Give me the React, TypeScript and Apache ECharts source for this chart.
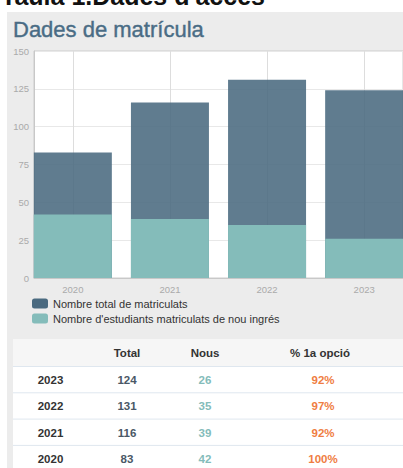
import React, { useEffect, useRef } from "react";
import * as echarts from "echarts";

const years = [2020, 2021, 2022, 2023];
const totals = [83, 116, 131, 124];
const nous = [42, 39, 35, 26];
const pctFirst = [100, 92, 97, 92];
const seriesNames = ["Nombre total de matriculats", "Nombre d'estudiants matriculats de nou ingrés"];
const tableHeaders = ["Total", "Nous", "% 1a opció"];
const yTicks = [0, 25, 50, 75, 100, 125, 150];

const FONT = "'Liberation Sans', Arial, sans-serif";

export default function App() {
  const ref = useRef<HTMLDivElement>(null);
  useEffect(() => {
    if (!ref.current) return;
    const chart = echarts.init(ref.current, undefined, { renderer: "svg" });

    const rowsDesc = years.map((y, i) => ({ y, t: totals[i], n: nous[i], p: pctFirst[i] })).reverse();
    const rowY0 = 380;
    const rowH = 26.3;
    const graphics: any[] = [
      {
        type: "text",
        x: 1,
        y: -4,
        style: {
          text: "Taula 1.Dades d'accés",
          fontFamily: FONT,
          fontWeight: "bold",
          fontSize: 25,
          fill: "#111",
          verticalAlign: "middle",
        },
      },
      {
        type: "text",
        x: 13,
        y: 29,
        style: {
          text: "Dades de matrícula",
          fontFamily: FONT,
          fontSize: 22,
          fill: "#4a6c85",
          stroke: "#4a6c85",
          lineWidth: 0.4,
          verticalAlign: "middle",
        },
      },
      { type: "rect", shape: { x: 13, y: 339, width: 400, height: 140 }, style: { fill: "#ffffff" } },
      { type: "rect", shape: { x: 13, y: 339, width: 400, height: 27 }, style: { fill: "#f6f6f6" } },
    ];
    const cols = [50.5, 127, 205, 323];
    const headerX = [127, 205, 320];
    tableHeaders.forEach((h, i) => {
      graphics.push({
        type: "text",
        x: headerX[i],
        y: 353,
        style: { text: h, fontFamily: FONT, fontWeight: "bold", fontSize: 11.5, fill: "#333", align: "center", verticalAlign: "middle" },
      });
    });
    rowsDesc.forEach((r, i) => {
      const cy = rowY0 + i * rowH;
      graphics.push({
        type: "line",
        shape: { x1: 13, y1: cy - 13.5, x2: 413, y2: cy - 13.5 },
        style: { stroke: "#dfe7ef", lineWidth: 1 },
      });
      const vals = [String(r.y), String(r.t), String(r.n), r.p + "%"];
      const colors = ["#333333", "#4a5866", "#84bcba", "#ef7d42"];
      vals.forEach((v, j) => {
        graphics.push({
          type: "text",
          x: cols[j],
          y: cy,
          style: { text: v, fontFamily: FONT, fontWeight: "bold", fontSize: 11.5, fill: colors[j], align: "center", verticalAlign: "middle" },
        });
      });
    });

    chart.setOption({
      animation: false,
      backgroundColor: "transparent",
      textStyle: { fontFamily: FONT },
      grid: {
        left: 34,
        top: 51,
        width: 370,
        height: 227,
        show: true,
        backgroundColor: "#ffffff",
        borderColor: "#cccccc",
        borderWidth: 1,
      },
      legend: {
        orient: "vertical",
        left: 32,
        top: 298,
        padding: 0,
        itemWidth: 16,
        itemHeight: 10,
        itemGap: 4,
        icon: "roundRect",
        textStyle: { fontSize: 11, color: "#333", fontFamily: FONT },
        data: [
          { name: seriesNames[0], itemStyle: { opacity: 1, color: "#4a6a80" } },
          { name: seriesNames[1], itemStyle: { opacity: 1, color: "#84bcba" } },
        ],
      },
      xAxis: {
        type: "value",
        min: 2019.6,
        max: 2023.4,
        axisLine: { show: true, lineStyle: { color: "#c8c8c8" } },
        axisTick: { show: false, customValues: years },
        axisLabel: {
          customValues: years,
          formatter: (v: number) => String(v),
          color: "#aaaaaa",
          fontSize: 9.5,
          margin: 6,
        },
        splitLine: { show: true, lineStyle: { color: "#dddddd" } },
      },
      yAxis: {
        type: "value",
        min: yTicks[0],
        max: yTicks[yTicks.length - 1],
        interval: 25,
        axisLine: { show: true, lineStyle: { color: "#c8c8c8" } },
        axisTick: { show: false },
        axisLabel: { color: "#aaaaaa", fontSize: 9.5, margin: 5 },
        splitLine: { show: true, lineStyle: { color: "#e8e8e8" } },
      },
      series: [
        {
          name: seriesNames[0],
          type: "bar",
          data: years.map((y, i) => [y, totals[i]]),
          barWidth: 78,
          barGap: "-100%",
          itemStyle: { color: "#4a6a80", opacity: 0.88 },
          z: 2,
        },
        {
          name: seriesNames[1],
          type: "bar",
          data: years.map((y, i) => [y, nous[i]]),
          barWidth: 78,
          barGap: "-100%",
          itemStyle: { color: "#84bcba" },
          z: 3,
        },
      ],
      graphic: graphics,
    });
    return () => chart.dispose();
  }, []);

  return (
    <div style={{ position: "fixed", left: 0, top: 0, width: 403, height: 468, background: "#ffffff", overflow: "hidden" }}>
      <div style={{ position: "absolute", left: 7, top: 12, width: 396, height: 456, background: "#ececec" }} />
      <div ref={ref} style={{ position: "absolute", left: 0, top: 0, width: 403, height: 468 }} />
    </div>
  );
}
